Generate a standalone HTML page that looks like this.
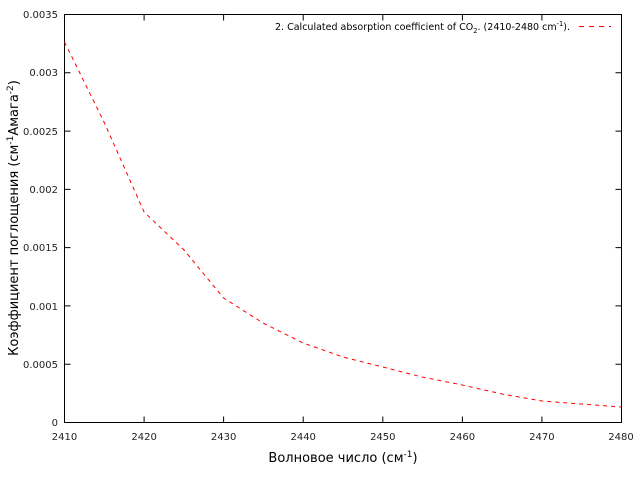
<!DOCTYPE html>
<html><head><meta charset="utf-8"><style>
html,body{margin:0;padding:0;background:#fff;}
svg{display:block;font-family:"DejaVu Sans","Liberation Sans",sans-serif;}
</style></head><body>
<svg width="640" height="480" viewBox="0 0 640 480" xmlns="http://www.w3.org/2000/svg">
<rect width="640" height="480" fill="#fff"/>
<g stroke="#000" stroke-width="1" fill="none">
<rect x="64.5" y="14.5" width="557" height="408"/>
<path d="M64.5 364.2h6M64.5 305.9h6M64.5 247.6h6M64.5 189.4h6M64.5 131.1h6M64.5 72.8h6
M621.5 364.2h-6M621.5 305.9h-6M621.5 247.6h-6M621.5 189.4h-6M621.5 131.1h-6M621.5 72.8h-6
M144.1 422.5v-6M223.6 422.5v-6M303.2 422.5v-6M382.8 422.5v-6M462.4 422.5v-6M541.9 422.5v-6
M144.1 14.5v6M223.6 14.5v6M303.2 14.5v6M382.8 14.5v6M462.4 14.5v6M541.9 14.5v6"/>
</g>
<g font-size="10" fill="#222" text-anchor="end">
<text x="58" y="426">0</text>
<text x="58" y="368">0.0005</text>
<text x="58" y="310">0.001</text>
<text x="58" y="251">0.0015</text>
<text x="58" y="193">0.002</text>
<text x="58" y="135">0.0025</text>
<text x="58" y="76">0.003</text>
<text x="58" y="18">0.0035</text>
</g>
<g font-size="10" fill="#222" text-anchor="middle">
<text x="64.5" y="440">2410</text>
<text x="144.1" y="440">2420</text>
<text x="223.6" y="440">2430</text>
<text x="303.2" y="440">2440</text>
<text x="382.8" y="440">2450</text>
<text x="462.4" y="440">2460</text>
<text x="541.9" y="440">2470</text>
<text x="621" y="440">2480</text>
</g>
<text x="343" y="462" font-size="13" text-anchor="middle">Волновое число (см<tspan font-size="9" dy="-5">-1</tspan><tspan dy="5">)</tspan></text>
<text transform="translate(18,218) rotate(-90)" font-size="13" text-anchor="middle">Коэффициент поглощения (см<tspan font-size="9" dy="-5">-1</tspan><tspan dy="5">Амага</tspan><tspan font-size="9" dy="-5">-2</tspan><tspan dy="5">)</tspan></text>
<text x="275" y="30" font-size="10" textLength="295" lengthAdjust="spacingAndGlyphs">2. Calculated absorption coefficient of CO<tspan font-size="7" dy="3">2</tspan><tspan dy="-3">. (2410-2480 cm</tspan><tspan font-size="7" dy="-4">-1</tspan><tspan dy="4">).</tspan></text>
<line x1="579" y1="26.5" x2="611" y2="26.5" stroke="#f00" stroke-width="1" stroke-dasharray="5,5"/>
<polyline fill="none" stroke="#f00" stroke-width="1" stroke-dasharray="4,4"
points="64.5,42 104,122 144.1,212 184,250 223.6,298 263,323 303.2,343 343,357 382.8,367 422,377 462.4,385 502,394 541.9,401 581,404 621,407"/>
</svg>
</body></html>
